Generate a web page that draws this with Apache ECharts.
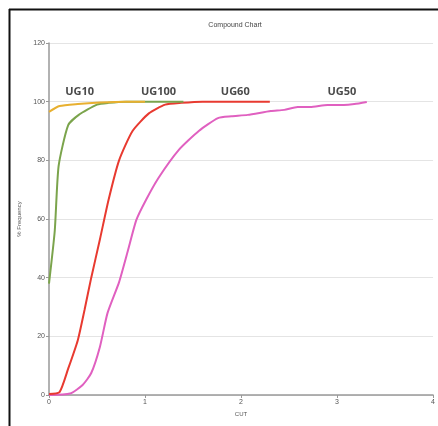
<!DOCTYPE html>
<html><head><meta charset="utf-8">
<script src="https://cdn.jsdelivr.net/npm/echarts@6/dist/echarts.min.js"></script>
<style>html,body{margin:0;padding:0;background:#fff}#c{width:438px;height:426px}</style>
</head><body><div id="c"></div>
<script>
const title = "Compound Chart";
const xName = "CUT";
const yName = "% Frequency";
const yTicks = [0, 20, 40, 60, 80, 100, 120];
const xTicks = [0, 1, 2, 3, 4];

const ug10 = [[0,96.5],[0.11,98.5],[0.3,99.2],[0.53,99.7],[0.8,100],[1.0,100]];
const ug100 = [[0,38],[0.06,56],[0.1,78],[0.2,92],[0.31,95.5],[0.5,99],[0.62,99.6],[0.8,100],[1.0,100],[1.4,100]];
const ug60 = [[0,0.3],[0.11,1],[0.2,9],[0.3,18.7],[0.37,29],[0.44,40],[0.53,53],[0.62,66.5],[0.73,80],[0.87,90],[1.04,96],[1.21,99],[1.38,99.6],[1.6,100],[2.3,100]];
const ug50 = [[0,0],[0.22,0.5],[0.35,3.4],[0.44,7.5],[0.53,16.4],[0.61,28],[0.73,38.5],[0.82,49],[0.91,59.7],[1.01,66.5],[1.14,74],[1.35,83.5],[1.56,90],[1.76,94.4],[1.9,95],[2.07,95.5],[2.31,96.8],[2.45,97.2],[2.59,98.2],[2.72,98.2],[2.9,98.9],[3.07,98.9],[3.18,99.2],[3.31,99.9]];

const labels = [
  {name:"UG10", coord:[0.32,103.3]},
  {name:"UG100", coord:[1.14,103.3]},
  {name:"UG60", coord:[1.94,103.3]},
  {name:"UG50", coord:[3.05,103.3]}
];

const chart = echarts.init(document.getElementById('c'));
function line(name, data, color, mark){
  const s = {name, type:'line', data, symbol:'none', smooth:0.2,
    lineStyle:{color, width:2}, itemStyle:{color}, z: 3};
  if (mark) s.markPoint = {symbol:'circle', symbolSize:0,
    label:{show:true, formatter:'{b}', color:'#4a4a4a', fontSize:11, fontWeight:'bold', fontFamily:'Open Sans'},
    data: labels.map(l=>({name:l.name, coord:l.coord}))};
  return s;
}
chart.setOption({
  animation:false,
  title:{text:title, left:230, top:17, textAlign:'center',
    textStyle:{fontSize:7, fontWeight:'normal', color:'#444', fontFamily:'Liberation Sans'}},
  grid:{left:49, right:1, top:43, bottom:31},
  xAxis:{type:'value', min:xTicks[0], max:xTicks[xTicks.length-1], interval:1,
    name:xName, nameLocation:'middle', nameGap:14,
    nameTextStyle:{fontSize:6, color:'#555'},
    axisLine:{lineStyle:{color:'#999', width:1.5}},
    axisTick:{show:true, length:3, lineStyle:{color:'#999'}},
    axisLabel:{fontSize:7, color:'#555', margin:4},
    splitLine:{show:false}},
  yAxis:{type:'value', min:yTicks[0], max:yTicks[yTicks.length-1], interval:20,
    name:yName, nameLocation:'middle', nameGap:12,
    nameTextStyle:{fontSize:6, color:'#555'},
    axisLine:{show:true, lineStyle:{color:'#999', width:1.5}},
    axisTick:{show:true, length:3, lineStyle:{color:'#999'}},
    axisLabel:{fontSize:7, color:'#555', margin:4},
    splitLine:{show:true, lineStyle:{color:'#e4e4e4', width:1}}},
  graphic:[
    {type:'line', shape:{x1:9, y1:9.5, x2:438, y2:9.5}, style:{stroke:'#111', lineWidth:2}},
    {type:'line', shape:{x1:9.5, y1:9, x2:9.5, y2:426}, style:{stroke:'#111', lineWidth:2}}
  ],
  series:[
    line('UG50', ug50, '#e060c0'),
    line('UG60', ug60, '#e83a30'),
    line('UG100', ug100, '#7ba44c'),
    line('UG10', ug10, '#e8b030', true)
  ]
});
</script></body></html>
